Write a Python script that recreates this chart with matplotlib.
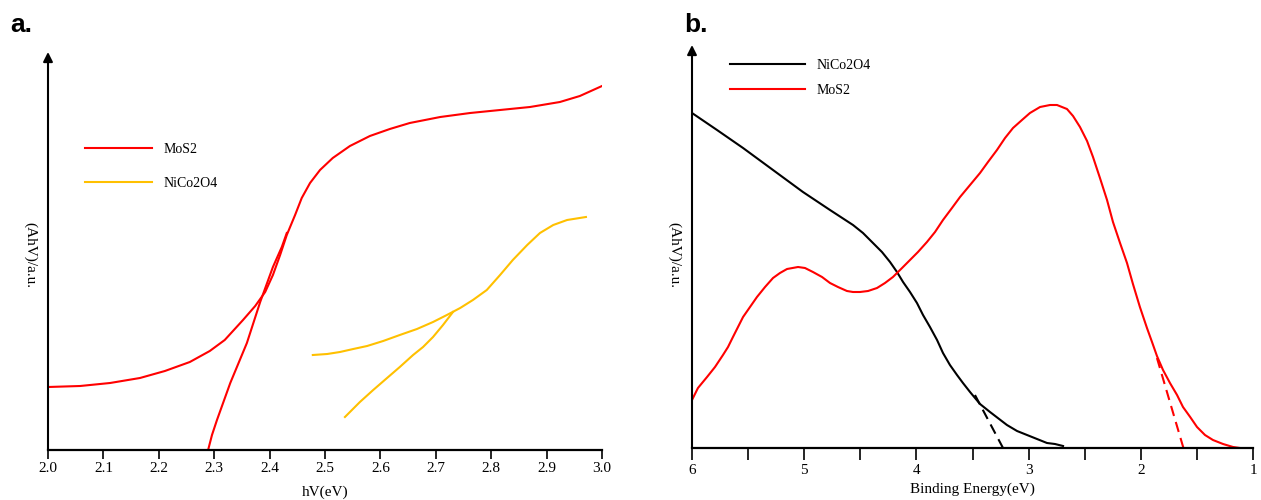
import matplotlib
matplotlib.use("Agg")
import matplotlib.pyplot as plt
from matplotlib.ticker import MultipleLocator, FormatStrFormatter

plt.rcParams['font.family'] = ['Liberation Serif', 'DejaVu Serif']

# panel a: Tauc plot
mos2_hv = [2.000, 2.058, 2.112, 2.166, 2.211, 2.256, 2.292, 2.319, 2.352, 2.374,
           2.392, 2.406, 2.419, 2.431, 2.446, 2.458, 2.473, 2.491, 2.514, 2.545,
           2.581, 2.617, 2.653, 2.708, 2.762, 2.816, 2.870, 2.924, 2.960, 3.000]
mos2_a = [63, 64, 67, 72, 79, 88, 99, 110, 130, 144,
          158, 175, 195, 215, 235, 252, 267, 280, 292, 304,
          314, 321, 327, 333, 337, 340, 343, 348, 354, 364]
mos2_fit_hv = [2.289, 2.296, 2.305, 2.329, 2.359, 2.383, 2.406, 2.422, 2.431]
mos2_fit_a = [0, 15, 30, 67, 107, 148, 183, 203, 217]

nico_hv = [2.478, 2.504, 2.527, 2.551, 2.576, 2.605, 2.635, 2.666, 2.695, 2.720,
           2.744, 2.767, 2.792, 2.816, 2.839, 2.865, 2.888, 2.912, 2.937, 2.971]
nico_a = [95, 96, 98, 101, 104, 109, 115, 121, 128, 135,
          142, 150, 160, 175, 190, 205, 217, 225, 230, 233]
nico_fit_hv = [2.536, 2.563, 2.587, 2.612, 2.635, 2.659, 2.677, 2.695, 2.713, 2.731]
nico_fit_a = [33, 48, 60, 72, 83, 95, 103, 113, 125, 138]

# panel b: valence band
nico_be = [6.000, 5.777, 5.545, 5.278, 5.011, 4.770, 4.565, 4.476, 4.387, 4.307,
           4.235, 4.173, 4.119, 4.057, 3.995, 3.941, 3.879, 3.816, 3.763, 3.701,
           3.638, 3.585, 3.522, 3.433, 3.344, 3.193, 3.103, 3.014, 2.925, 2.836,
           2.765, 2.693]
nico_i = [335, 318, 300, 278, 256, 238, 223, 215, 205, 196,
          186, 176, 166, 156, 145, 133, 121, 108, 95, 83,
          73, 65, 56, 44, 36, 23, 17, 13, 9, 5,
          4, 2]
nico_tan_be = [3.478, 3.228]
nico_tan_i = [53, 0]

mos2_be = [6.000, 5.947, 5.866, 5.795, 5.724, 5.679, 5.635, 5.590, 5.545, 5.483,
           5.421, 5.349, 5.278, 5.216, 5.153, 5.055, 4.993, 4.922, 4.841, 4.770,
           4.699, 4.619, 4.565, 4.503, 4.431, 4.351, 4.280, 4.209, 4.128, 4.057,
           3.986, 3.906, 3.834, 3.763, 3.683, 3.611, 3.522, 3.433, 3.362, 3.282,
           3.210, 3.139, 3.059, 2.988, 2.898, 2.809, 2.747, 2.658, 2.604, 2.542,
           2.479, 2.426, 2.364, 2.301, 2.248, 2.185, 2.123, 2.070, 2.008, 1.945,
           1.900, 1.856, 1.802, 1.740, 1.677, 1.624, 1.560, 1.499, 1.428, 1.357,
           1.267, 1.178, 1.116]
mos2_i = [48, 60, 71, 81, 93, 101, 111, 121, 131, 141,
          151, 161, 170, 175, 179, 181, 180, 176, 171, 165,
          161, 157, 156, 156, 157, 160, 165, 171, 180, 188,
          196, 206, 216, 228, 240, 251, 263, 275, 286, 298,
          310, 320, 328, 335, 341, 343, 343, 339, 332, 321,
          307, 291, 270, 248, 226, 205, 185, 164, 141, 120,
          106, 92, 78, 65, 53, 41, 31, 21, 13, 8,
          4, 1, 0]
mos2_tan_be = [1.856, 1.62]
mos2_tan_i = [90, 0]

red = '#ff0000'
gold = '#ffc000'

fig = plt.figure(figsize=(12.61, 5.0), dpi=100)
ax1 = fig.add_axes([48 / 1261, 0.1, 554 / 1261, 0.796])
ax2 = fig.add_axes([692 / 1261, 0.104, 561 / 1261, 0.806])

ax1.plot(mos2_hv, mos2_a, color=red, lw=1.5, label='MoS2')
ax1.plot(mos2_fit_hv, mos2_fit_a, color=red, lw=1.5)
ax1.plot(nico_hv, nico_a, color=gold, lw=1.5, label='NiCo2O4')
ax1.plot(nico_fit_hv, nico_fit_a, color=gold, lw=1.5)
ax1.set_xlim(2.0, 3.0)
ax1.set_ylim(0, 398)
ax1.xaxis.set_major_locator(MultipleLocator(0.1))
ax1.xaxis.set_major_formatter(FormatStrFormatter('%.1f'))
ax1.tick_params(axis='x', direction='out', length=6.5, width=1.2, pad=2, labelsize=11)
ax1.set_xlabel('hV(eV)', fontsize=11, labelpad=8)
ax1.legend(loc='upper left', bbox_to_anchor=(0.0668, 0.771), frameon=False,
           borderpad=0, borderaxespad=0, handlelength=4.8, handletextpad=0.85,
           labelspacing=1.5, fontsize=10)

ax2.plot(nico_be, nico_i, color='black', lw=1.5, label='NiCo2O4')
ax2.plot(nico_tan_be, nico_tan_i, color='black', lw=1.5, ls=(0, (5, 3)))
ax2.plot(mos2_be, mos2_i, color=red, lw=1.5, label='MoS2')
ax2.plot(mos2_tan_be, mos2_tan_i, color=red, lw=1.5, ls=(0, (5, 3)))
ax2.set_xlim(6, 1)
ax2.set_ylim(0, 403)
ax2.xaxis.set_major_locator(MultipleLocator(1))
ax2.xaxis.set_minor_locator(MultipleLocator(0.5))
ax2.tick_params(axis='x', which='both', direction='out', length=8.6, width=1.2,
                pad=3, labelsize=11)
ax2.set_xlabel('Binding Energy(eV)', fontsize=11, labelpad=4)
ax2.legend(loc='upper left', bbox_to_anchor=(0.0677, 0.966), frameon=False,
           borderpad=0, borderaxespad=0, handlelength=5.4, handletextpad=0.85,
           labelspacing=0.85, fontsize=10)

for ax in (ax1, ax2):
    for s in ('top', 'right', 'left'):
        ax.spines[s].set_visible(False)
    ax.spines['bottom'].set_linewidth(1.6)
    ax.set_yticks([])
    ax.annotate('', xy=(0, 1), xycoords='axes fraction', xytext=(0, 0),
                arrowprops=dict(arrowstyle='-|>', color='black', lw=1.5,
                                mutation_scale=14, shrinkA=0, shrinkB=0))

fig.text(30 / 1261, 1 - 255 / 500, '(AhV)/a.u.', rotation=-90, ha='center',
         va='center', fontsize=11)
fig.text(674 / 1261, 1 - 255 / 500, '(AhV)/a.u.', rotation=-90, ha='center',
         va='center', fontsize=11)
fig.text(10 / 1261, 1 - 25 / 500, 'a.', family='Liberation Sans', weight='bold',
         fontsize=19, ha='left', va='center')
fig.text(684 / 1261, 1 - 25 / 500, 'b.', family='Liberation Sans', weight='bold',
         fontsize=19, ha='left', va='center')

fig.savefig('out.png', dpi=100)
